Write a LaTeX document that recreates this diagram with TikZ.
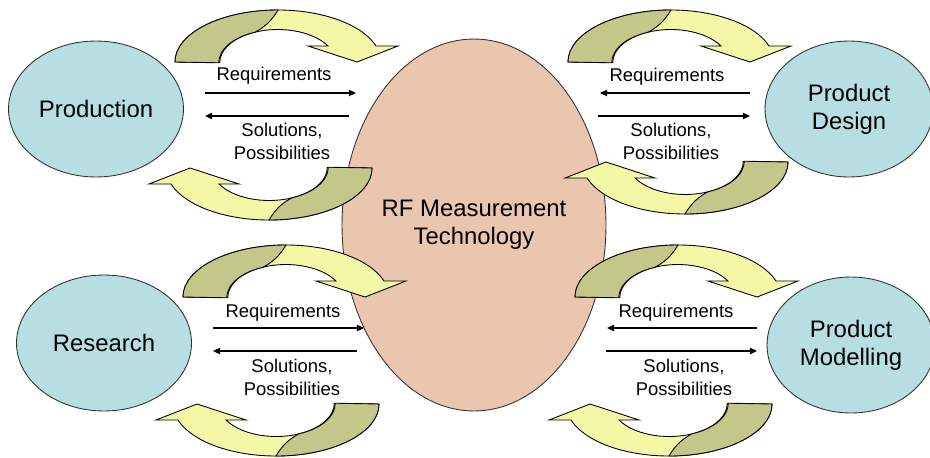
\documentclass[tikz,border=0pt]{standalone}
\usepackage{fontspec}
\setmainfont{Liberation Sans}
\usetikzlibrary{arrows.meta,shapes.geometric}

\definecolor{partnerblue}{HTML}{B7DEE2}
\definecolor{rfsalmon}{HTML}{EBC6AE}
\definecolor{arcolive}{HTML}{C4C78A}
\definecolor{arcyellow}{HTML}{F4F7A6}

\begin{document}
\begin{tikzpicture}[x=0.02cm, y=-0.02cm,
  every node/.style={font=\fontsize{10.5}{13}\selectfont},
  partner/.style={ellipse, draw=black!80, line width=0.5pt, fill=partnerblue,
                  inner sep=0pt, minimum width=3.5cm, minimum height=2.72cm,
                  align=center, font=\fontsize{13.6}{16}\selectfont},
  core/.style={ellipse, draw=black!80, line width=0.5pt, fill=rfsalmon,
               inner sep=0pt, minimum width=5.28cm, minimum height=7.44cm,
               align=center, font=\fontsize{13.6}{16}\selectfont},
  flowlabel/.style={align=center},
  flow/.style={-{Triangle[length=4pt,width=3.6pt]}, line width=0.6pt},
  bendarrow/.pic={
    \filldraw[fill=arcyellow, draw=black, line width=0.5pt]
      (0,0) arc[start angle=180, end angle=342.1, x radius=103, y radius=52]
      -- (223,-16) -- (182,0) -- (133,-16) -- (153,-16)
      arc[start angle=330, end angle=180, x radius=58, y radius=33] -- cycle;
    \filldraw[fill=arcolive, draw=black, line width=0.5pt]
      (0,0) arc[start angle=180, end angle=270, x radius=103, y radius=52]
      .. controls (96,-40) and (88,-34) .. (80,-29.8)
      arc[start angle=248, end angle=180, x radius=58, y radius=33] -- cycle;
  }
]
  \useasboundingbox (0,0) rectangle (930,457);

  % --- Central technology ---
  \node[core] (rf) at (474,225) {RF Measurement\\Technology};

  % --- Partner fields ---
  \node[partner] (production) at (96,109) {Production};
  \node[partner, minimum width=3.36cm] (design) at (849,109) {Product\\Design};
  \node[partner] (research) at (104,343) {Research};
  \node[partner, minimum width=3.36cm] (modelling) at (851,345) {Product\\Modelling};

  % --- Exchange labels ---
  \node (prodreq) at (274,76) {Requirements};
  \node[flowlabel] (prodsol) at (282,141.5) {Solutions,\\Possibilities};
  \node (desreq) at (667,77) {Requirements};
  \node[flowlabel] (dessol) at (671,141.5) {Solutions,\\Possibilities};
  \node (resreq) at (283,313) {Requirements};
  \node[flowlabel] (ressol) at (292,377.5) {Solutions,\\Possibilities};
  \node (modreq) at (676,313) {Requirements};
  \node[flowlabel] (modsol) at (684,377.5) {Solutions,\\Possibilities};

  % --- Arrow end points ---
  \coordinate (prodA) at (205,93);  \coordinate (prodB) at (356,93);
  \coordinate (prodC) at (349,116); \coordinate (prodD) at (205,116);
  \coordinate (desA) at (750,93);   \coordinate (desB) at (600,93);
  \coordinate (desC) at (598,116);  \coordinate (desD) at (750,116);
  \coordinate (resA) at (213,328);  \coordinate (resB) at (364,328);
  \coordinate (resC) at (357,351);  \coordinate (resD) at (213,351);
  \coordinate (modA) at (757,328);  \coordinate (modB) at (607,328);
  \coordinate (modC) at (606,351);  \coordinate (modD) at (757,351);

  % --- Straight arrows ---
  \draw[flow] (prodA) -- (prodB);
  \draw[flow] (prodC) -- (prodD);
  \draw[flow] (desA) -- (desB);
  \draw[flow] (desC) -- (desD);
  \draw[flow] (resA) -- (resB);
  \draw[flow] (resC) -- (resD);
  \draw[flow] (modA) -- (modB);
  \draw[flow] (modC) -- (modD);

  % --- Curved arrows ---
  \pic at (175,62) {bendarrow};
  \pic[rotate=180] at (372,168) {bendarrow};
  \pic at (568,62) {bendarrow};
  \pic[rotate=180] at (788,162) {bendarrow};
  \pic at (183,297) {bendarrow};
  \pic[rotate=180] at (379,404) {bendarrow};
  \pic at (575,297) {bendarrow};
  \pic[rotate=180] at (772,404) {bendarrow};

\end{tikzpicture}
\end{document}
